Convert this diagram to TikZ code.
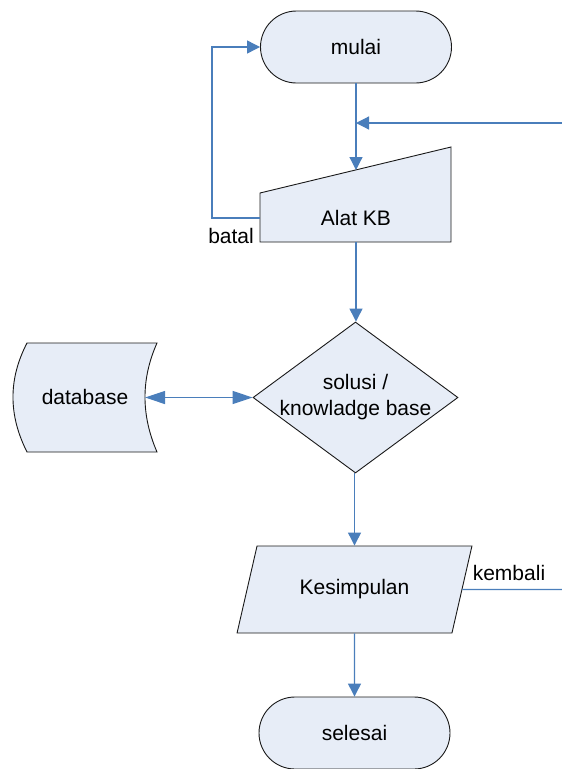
\documentclass[tikz,border=0pt]{standalone}
\usepackage{fontspec}
\setmainfont{Liberation Sans}
\usetikzlibrary{arrows.meta,shapes.misc,shapes.geometric,calc}
\definecolor{shapefill}{HTML}{E7EDF7}
\definecolor{flowblue}{HTML}{4A7EBB}
\tikzset{
  box/.style={draw=black!90, fill=shapefill, line width=0.9pt},
  txt/.style={font=\fontsize{21}{26}\selectfont, align=center, inner sep=0pt},
  terminal/.style={box, txt, rounded rectangle, minimum width=191pt, minimum height=72pt},
  plainflow/.style={draw=flowblue, line width=1.2pt},
  flow/.style={plainflow, -{Triangle[width=13pt,length=13pt]}},
  bothflow/.style={plainflow, {Triangle[width=13pt,length=20pt]}-{Triangle[width=13pt,length=20pt]}},
}
\begin{document}
\begin{tikzpicture}[x=1pt,y=-1pt]
\useasboundingbox (0,0) rectangle (562,769);

% start / end terminals
\node[terminal] (mulai) at (356,47) {mulai};
\node[terminal] (selesai) at (354.5,733) {selesai};

% manual input: Alat KB
\draw[box] (260,193) -- (451,147) -- (451,242) -- (260,242) -- cycle;
\node[txt] (kb) at (356,218) {Alat KB};
\coordinate (kbtop) at (356,170);
\coordinate (kbbottom) at (356,242);
\coordinate (kbleft) at (260,218);

% decision
\node[box, diamond, minimum width=205pt, minimum height=151pt, inner sep=0pt] (sol) at (355.5,397.5) {};
\node[txt] (soltext) at (sol.center) {solusi /\\knowladge base};

% stored data: database
\draw[box] (27,343) -- (157,343)
  .. controls (141,379) and (141,415) .. (157,452)
  -- (27,452)
  .. controls (8.3,415) and (8.3,379) .. (27,343) -- cycle;
\node[txt] (db) at (85,397) {database};
\coordinate (dbright) at (145,397.5);

% output: Kesimpulan
\node[box, txt, trapezium, trapezium left angle=63.7, trapezium right angle=116.3,
      trapezium stretches=true, minimum width=235pt, minimum height=87pt,
      inner sep=2pt] (kes) at (354.5,589.5) {Kesimpulan};
\coordinate (kesright) at ($(kes.top right corner)!0.5!(kes.bottom right corner)$);

% connectors
\coordinate (mergein) at (562,123);
\coordinate (merge) at (356,123);
\coordinate (batalcorner) at (212,218);
\coordinate (kembaliend) at (562,589.5);

\draw[flow] (mulai.south) -- (kbtop);
\draw[flow] (mergein) -- (merge);
\draw[flow] (kbleft) -- (batalcorner) |- (mulai.west);
\draw[flow] (kbbottom) -- (kbbottom |- sol.north);
\draw[bothflow] (dbright) -- (sol.west);
\draw[flow] (sol.south -| kes.north) -- (kes.north);
\draw[plainflow] (kesright) -- (kembaliend);
\draw[flow] (kes.south) -- (selesai.north);

% labels
\node[txt, anchor=east] (batal) at (254,236) {batal};
\node[txt] (kembali) at (509,573) {kembali};
\end{tikzpicture}
\end{document}
